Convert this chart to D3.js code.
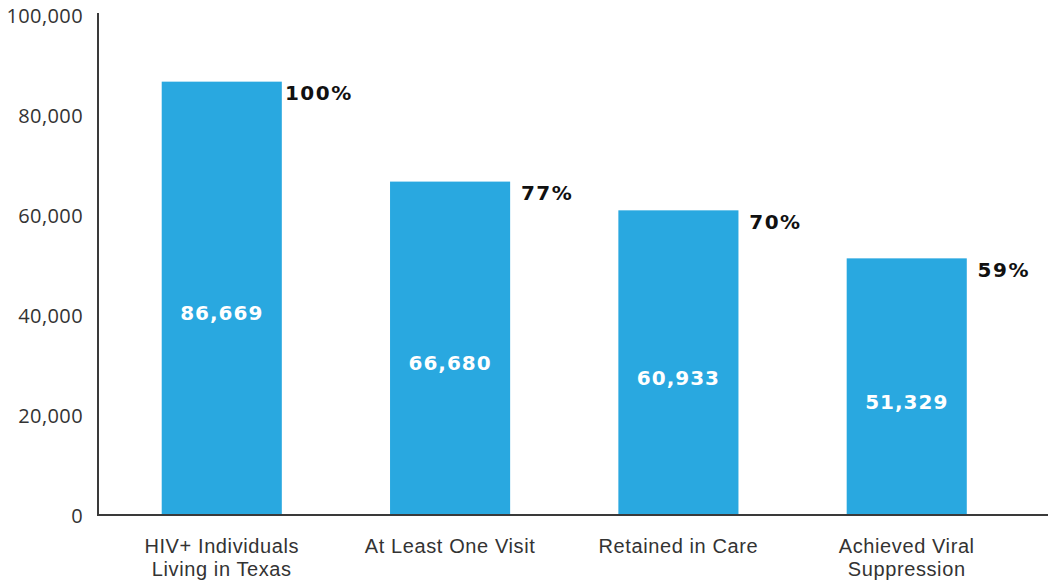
<!DOCTYPE html>
<html>
<head>
<meta charset="utf-8">
<script src="https://cdn.jsdelivr.net/npm/d3@7"></script>
<style>
  html, body { margin: 0; padding: 0; background: #ffffff; }
  svg { display: block; }
</style>
</head>
<body>
<svg id="chart" width="1052" height="586"></svg>
<script>
const categories = [
  ["HIV+ Individuals", "Living in Texas"],
  ["At Least One Visit"],
  ["Retained in Care"],
  ["Achieved Viral", "Suppression"]
];
const values = [86669, 66680, 60933, 51329];
const percents = ["100%", "77%", "70%", "59%"];
const yTicks = [0, 20000, 40000, 60000, 80000, 100000];

const svg = d3.select("#chart");
const barColor = "#29a8e0";
const textColor = "#333333";

const y = d3.scaleLinear().domain([0, 100000]).range([515, 15]);
const x = d3.scaleBand()
  .domain(d3.range(values.length))
  .range([107.6, 1020.9])
  .paddingInner(0.474)
  .paddingOuter(0.237);

// Bars
svg.selectAll("rect.bar")
  .data(values)
  .join("rect")
  .attr("class", "bar")
  .attr("x", (d, i) => x(i))
  .attr("y", d => y(d))
  .attr("width", x.bandwidth())
  .attr("height", d => y(0) - y(d))
  .attr("fill", barColor);

// Y axis
const yAxis = d3.axisLeft(y)
  .tickValues(yTicks)
  .tickFormat(d3.format(","))
  .tickSize(0)
  .tickPadding(0);
const yg = svg.append("g").attr("transform", "translate(83,0)").call(yAxis);
yg.select(".domain").remove();
yg.selectAll("text")
  .attr("font-family", "'Open Sans', sans-serif")
  .attr("font-size", 20)
  .attr("fill", textColor)
  .attr("dy", "0.35em")
  .attr("letter-spacing", "0.4px");

// Axis lines
svg.append("line")
  .attr("x1", 98).attr("x2", 98)
  .attr("y1", 13).attr("y2", y(0) + 1)
  .attr("stroke", "#3a3a3a").attr("stroke-width", 2);
svg.append("line")
  .attr("x1", 97).attr("x2", 1048)
  .attr("y1", y(0)).attr("y2", y(0))
  .attr("stroke", "#3a3a3a").attr("stroke-width", 2);

// Category labels (one text per line)
const catLines = categories.flatMap((lines, i) =>
  lines.map((t, j) => ({ i, j, t })));
svg.selectAll("text.cat")
  .data(catLines)
  .join("text")
  .attr("class", "cat")
  .attr("x", d => x(d.i) + x.bandwidth() / 2)
  .attr("y", d => 553 + d.j * 23)
  .attr("text-anchor", "middle")
  .attr("font-family", "'Liberation Sans', Arial, sans-serif")
  .attr("font-size", 20)
  .attr("letter-spacing", "0.6px")
  .attr("fill", textColor)
  .text(d => d.t);

// Value labels inside bars
svg.selectAll("text.val")
  .data(values)
  .join("text")
  .attr("class", "val")
  .attr("x", (d, i) => x(i) + x.bandwidth() / 2)
  .attr("y", d => (y(d) + y(0)) / 2 + 22)
  .attr("text-anchor", "middle")
  .attr("font-family", "'DejaVu Sans', sans-serif")
  .attr("font-weight", "bold")
  .attr("font-size", 20)
  .attr("letter-spacing", "1px")
  .attr("fill", "#ffffff")
  .text(d => d3.format(",")(d));

// Percent labels
svg.selectAll("text.pct")
  .data(values)
  .join("text")
  .attr("class", "pct")
  .attr("x", (d, i) => x(i) + x.bandwidth() + 37)
  .attr("y", d => y(d) + 18.5)
  .attr("text-anchor", "middle")
  .attr("font-family", "'DejaVu Sans', sans-serif")
  .attr("font-weight", "bold")
  .attr("font-size", 20)
  .attr("letter-spacing", "1.5px")
  .attr("fill", "#111111")
  .text((d, i) => percents[i]);
</script>
</body>
</html>
